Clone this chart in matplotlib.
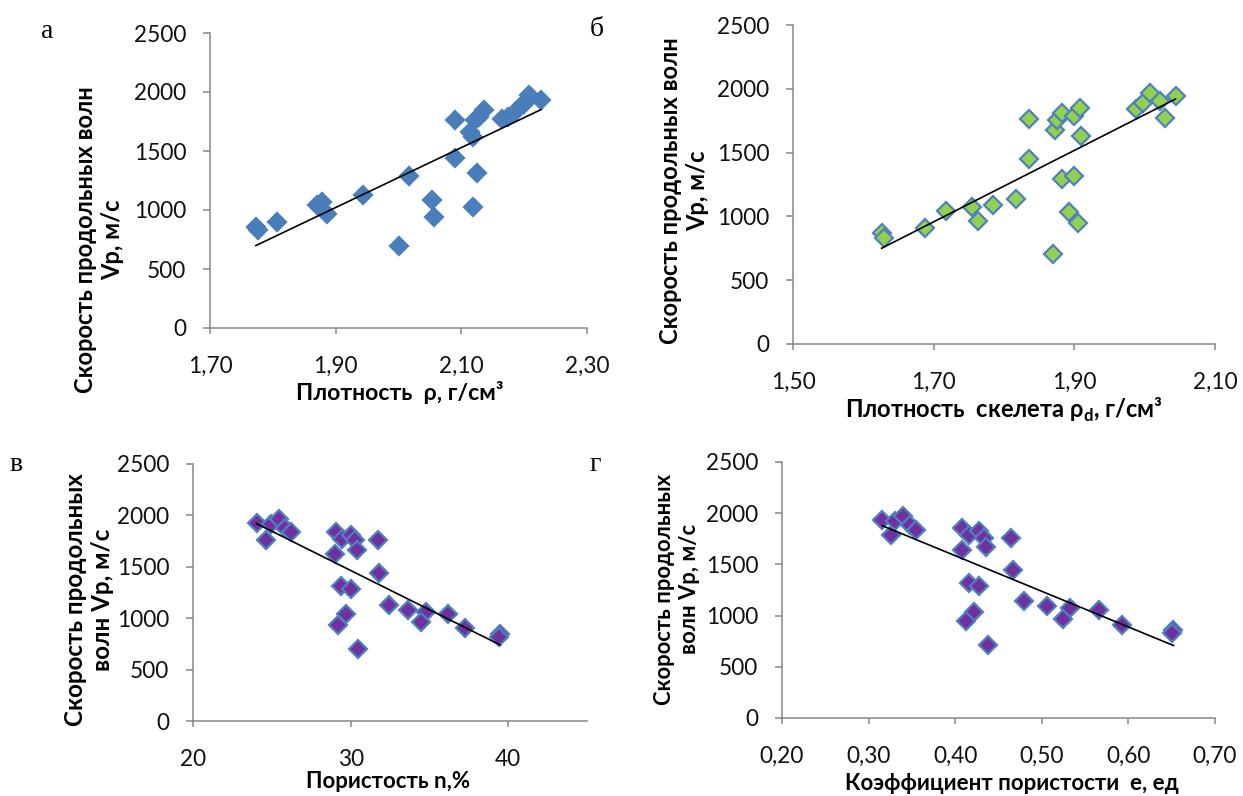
import numpy as np
import matplotlib
matplotlib.use("Agg")
import matplotlib.pyplot as plt

# ---------------- data ----------------
rho = [1.773, 1.777, 1.806, 1.870, 1.878, 1.886, 1.943, 2.016, 2.000, 2.053, 2.056, 2.090, 2.090,
       2.119, 2.125, 2.114, 2.119, 2.122, 2.128, 2.136, 2.165, 2.175, 2.186, 2.199, 2.202, 2.207, 2.227]
vp_a = [860, 830, 901, 1042, 1070, 966, 1127, 1287, 699, 1085, 938, 1761, 1437,
        1028, 1310, 1662, 1620, 1761, 1789, 1845, 1775, 1789, 1831, 1901, 1915, 1972, 1935]

rho_d = [1.626, 1.630, 1.688, 1.717, 1.755, 1.763, 1.785, 1.817, 1.835, 1.836, 1.870, 1.873, 1.875,
         1.883, 1.883, 1.899, 1.892, 1.905, 1.899, 1.908, 1.910, 1.987, 1.998, 2.007, 2.022, 2.029, 2.044]
vp_b = [870, 831, 910, 1046, 1072, 967, 1087, 1137, 1446, 1764, 708, 1676, 1759,
        1812, 1294, 1315, 1035, 949, 1785, 1851, 1629, 1843, 1890, 1968, 1908, 1772, 1942]

porosity = [24.03, 24.62, 24.98, 25.45, 25.83, 26.21, 29.06, 29.44, 30.01, 30.29, 30.39, 28.99, 31.77,
            31.81, 29.40, 30.01, 29.69, 29.18, 30.50, 32.45, 33.62, 34.78, 34.46, 36.18, 37.24, 39.51, 39.40]
vp_v = [1929, 1764, 1919, 1968, 1880, 1838, 1838, 1773, 1812, 1757, 1667, 1628, 1757,
        1440, 1314, 1281, 1036, 938, 699, 1126, 1078, 1061, 964, 1039, 900, 845, 820]

void_ratio = [0.316, 0.326, 0.331, 0.340, 0.348, 0.355, 0.408, 0.416, 0.427, 0.433, 0.436, 0.408, 0.465,
              0.467, 0.416, 0.427, 0.422, 0.412, 0.438, 0.480, 0.506, 0.532, 0.525, 0.566, 0.593, 0.652, 0.650]
vp_g = [1938, 1790, 1919, 1971, 1883, 1835, 1851, 1790, 1828, 1754, 1667, 1644, 1760,
        1447, 1317, 1285, 1032, 945, 709, 1139, 1091, 1074, 968, 1052, 913, 858, 832]

y_ticks = [0, 500, 1000, 1500, 2000, 2500]
x_ticks_a = [1.70, 1.90, 2.10, 2.30]
x_labels_a = ["1,70", "1,90", "2,10", "2,30"]
x_ticks_b = [1.50, 1.70, 1.90, 2.10]
x_labels_b = ["1,50", "1,70", "1,90", "2,10"]
x_ticks_v = [20, 30, 40]
x_labels_v = ["20", "30", "40"]
x_ticks_g = [0.20, 0.30, 0.40, 0.50, 0.60, 0.70]
x_labels_g = ["0,20", "0,30", "0,40", "0,50", "0,60", "0,70"]

panel_letters = ["а", "б", "в", "г"]
ylabel_ab = "Скорость продольных волн\nVp, м/с"
ylabel_vg = "Скорость продольных\nволн Vp, м/с"
xlabel_a = "Плотность  ρ, г/см³"
xlabel_b = "Плотность  скелета ρ$_\\mathbf{d}$, г/см³"
xlabel_v = "Пористость n,%"
xlabel_g = "Коэффициент пористости  е, ед"

# ---------------- style ----------------
W, H = 1243, 796
DPI = 100
plt.rcParams['font.family'] = ['Lato', 'DejaVu Sans']
plt.rcParams['mathtext.fontset'] = 'custom'
plt.rcParams['mathtext.bf'] = 'Lato:bold'
plt.rcParams['mathtext.rm'] = 'Lato'

fig = plt.figure(figsize=(W / DPI, H / DPI), dpi=DPI)
fig.patch.set_facecolor('white')

AX_GRAY = '#868686'
TICK_FS = 16.3


def box(l, t, r, b):
    return [l / W, 1 - b / H, (r - l) / W, (b - t) / H]


def style_axes(ax, xlim, xticks, xlabels):
    ax.set_xlim(*xlim)
    ax.set_ylim(0, 2500)
    ax.set_yticks(y_ticks)
    ax.set_yticklabels([str(v) for v in y_ticks])
    ax.set_xticks(xticks)
    ax.set_xticklabels(xlabels)
    for s in ['top', 'right']:
        ax.spines[s].set_visible(False)
    for s in ['left', 'bottom']:
        ax.spines[s].set_color(AX_GRAY)
        ax.spines[s].set_linewidth(1.1)
    ax.tick_params(axis='y', direction='out', length=5, width=1.1, color=AX_GRAY,
                   labelsize=TICK_FS, pad=12)
    ax.tick_params(axis='x', direction='out', length=4, width=1.1, color=AX_GRAY,
                   labelsize=TICK_FS, pad=16)
    for lab in ax.get_xticklabels() + ax.get_yticklabels():
        lab.set_clip_on(False)
        lab.set_color('#111111')


def draw(ax, x, y, face, edge, ms):
    ax.plot(x, y, linestyle='none', marker='D', markersize=ms, markerfacecolor=face,
            markeredgecolor=edge, markeredgewidth=1.6, zorder=3, clip_on=False)
    k, b = np.polyfit(x, y, 1)
    xs = np.array([min(x), max(x)])
    ax.plot(xs, k * xs + b, color='black', linewidth=1.2, zorder=4, clip_on=False)


BLUE = '#4A7EBB'
GREEN = '#92D050'
PURPLE = '#7030A0'
EDGE = '#4F81BD'

ax_a = fig.add_axes(box(210, 33, 587, 328))
style_axes(ax_a, (1.70, 2.30), x_ticks_a, x_labels_a)
draw(ax_a, rho, vp_a, BLUE, BLUE, 9.6)

ax_b = fig.add_axes(box(793, 25, 1215, 344))
style_axes(ax_b, (1.50, 2.10), x_ticks_b, x_labels_b)
draw(ax_b, rho_d, vp_b, GREEN, EDGE, 9.3)

ax_v = fig.add_axes(box(193, 464, 587, 721))
style_axes(ax_v, (20, 45), x_ticks_v, x_labels_v)
draw(ax_v, porosity, vp_v, PURPLE, EDGE, 9.3)

ax_g = fig.add_axes(box(782, 462, 1215, 718))
style_axes(ax_g, (0.20, 0.70), x_ticks_g, x_labels_g)
draw(ax_g, void_ratio, vp_g, PURPLE, EDGE, 9.3)


def ftext(x, y, s, **kw):
    fig.text(x / W, 1 - y / H, s, **kw)


# y labels
ftext(99, 240, ylabel_ab, rotation=90, ha='center', va='center', fontsize=17,
      fontweight='bold', linespacing=1.22, multialignment='center')
ftext(684, 191, ylabel_ab, rotation=90, ha='center', va='center', fontsize=17,
      fontweight='bold', linespacing=1.22, multialignment='center')
ftext(89, 600, ylabel_vg, rotation=90, ha='center', va='center', fontsize=17.4,
      fontweight='bold', linespacing=1.25, multialignment='center')
ftext(677, 589, ylabel_vg, rotation=90, ha='center', va='center', fontsize=15.8,
      fontweight='bold', linespacing=1.25, multialignment='center')

# x labels
ftext(400, 392, xlabel_a, ha='center', va='center', fontsize=16.6, fontweight='bold')
ftext(1004, 410, xlabel_b, ha='center', va='center', fontsize=17, fontweight='bold')
ftext(388, 782, xlabel_v, ha='center', va='center', fontsize=16, fontweight='bold')
ftext(1012, 784, xlabel_g, ha='center', va='center', fontsize=16, fontweight='bold')

# panel letters
for (px, py), letter in zip([(47, 31), (597, 30), (16, 465), (595, 465)], panel_letters):
    ftext(px, py, letter, ha='center', va='center', fontsize=20,
          family=['Liberation Serif', 'DejaVu Serif'])

fig.savefig('out.png', dpi=DPI, facecolor='white')
